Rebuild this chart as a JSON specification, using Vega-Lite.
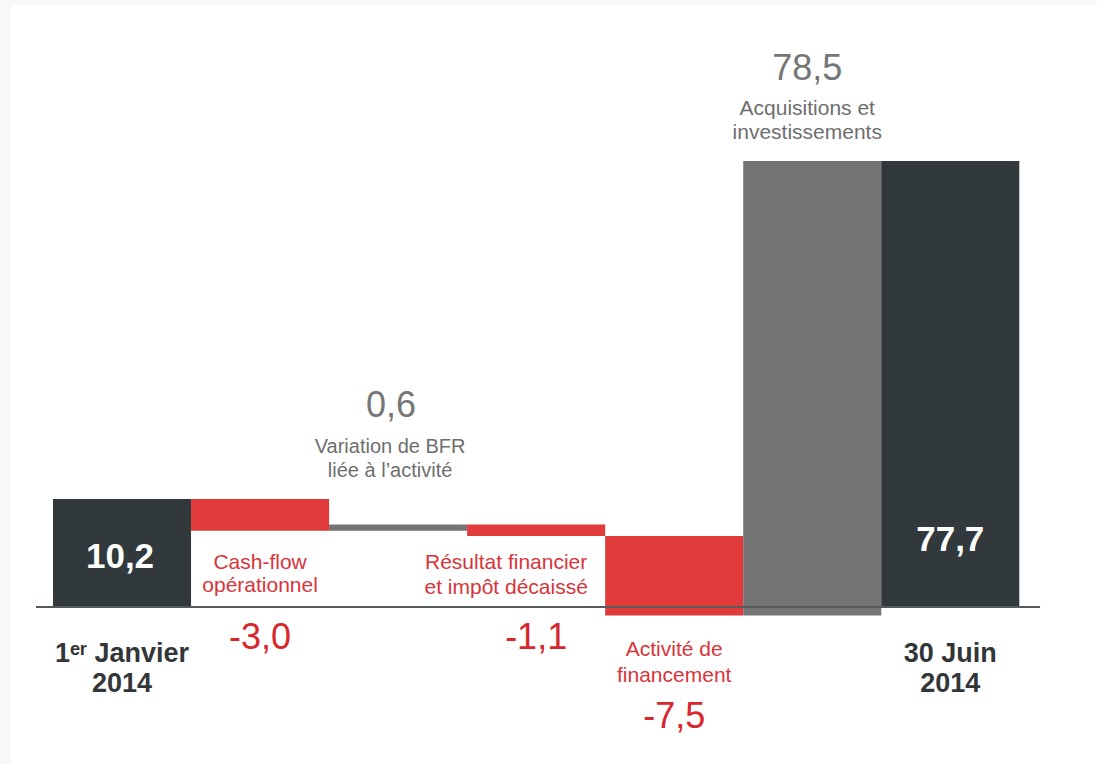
{
  "$schema": "https://vega.github.io/schema/vega-lite/v6.json",
  "width": 1086,
  "height": 759,
  "autosize": {"type": "none"},
  "padding": {"left": 11, "top": 5, "right": 0, "bottom": 0},
  "background": "#f7f8fa",
  "config": {"view": {"stroke": null, "fill": "white"}, "text": {"font": "Liberation Sans", "lineBreak": "\n"}},
  "data": {"values": [
    {"cat": "1er Janvier 2014", "start": 0, "end": 10.2, "kind": "total", "value": "10,2", "label": "1ᵉʳ Janvier\n2014"},
    {"cat": "Cash-flow opérationnel", "start": 10.2, "end": 7.2, "kind": "dec", "value": "-3,0", "label": "Cash-flow\nopérationnel"},
    {"cat": "Variation de BFR liée à l'activité", "start": 7.2, "end": 7.8, "kind": "inc", "value": "0,6", "label": "Variation de BFR\nliée à l’activité"},
    {"cat": "Résultat financier et impôt décaissé", "start": 7.8, "end": 6.7, "kind": "dec", "value": "-1,1", "label": "Résultat financier\net impôt décaissé"},
    {"cat": "Activité de financement", "start": 6.7, "end": -0.8, "kind": "dec", "value": "-7,5", "label": "Activité de\nfinancement"},
    {"cat": "Acquisitions et investissements", "start": -0.8, "end": 77.7, "kind": "inc", "value": "78,5", "label": "Acquisitions et\ninvestissements"},
    {"cat": "30 Juin 2014", "start": 0, "end": 77.7, "kind": "total", "value": "77,7", "label": "30 Juin\n2014"}
  ]},
  "encoding": {
    "x": {"field": "cat", "type": "nominal", "sort": null, "axis": null,
          "scale": {"range": [42, 1008.3], "paddingInner": 0, "paddingOuter": 0}}
  },
  "layer": [
    {
      "mark": {"type": "bar"},
      "encoding": {
        "y": {"field": "start", "type": "quantitative", "axis": null,
              "scale": {"domain": [-10, 0, 10.2, 77.7], "range": [708, 602, 494, 156], "nice": false, "zero": false}},
        "y2": {"field": "end"},
        "color": {"field": "kind", "type": "nominal", "legend": null,
                  "scale": {"domain": ["total", "dec", "inc"], "range": ["#31393c", "#e03a3b", "#747474"]}}
      }
    },
    {
      "mark": {"type": "rule", "color": "#555a5c", "strokeWidth": 2},
      "encoding": {
        "x": {"datum": "1er Janvier 2014", "type": "nominal", "bandPosition": -0.12},
        "x2": {"datum": "30 Juin 2014", "bandPosition": 1.15},
        "y": {"datum": 0, "type": "quantitative"}
      }
    },
    {
      "transform": [{"filter": "datum.cat == '1er Janvier 2014'"}],
      "mark": {"type": "text", "color": "white", "fontWeight": "bold", "fontSize": 35, "baseline": "middle", "dy": -50, "dx": -2},
      "encoding": {"y": {"datum": 0, "type": "quantitative"}, "text": {"field": "value"}}
    },
    {
      "transform": [{"filter": "datum.cat == '30 Juin 2014'"}],
      "mark": {"type": "text", "color": "white", "fontWeight": "bold", "fontSize": 35, "baseline": "middle", "dy": -67},
      "encoding": {"y": {"datum": 0, "type": "quantitative"}, "text": {"field": "value"}}
    },
    {
      "transform": [{"filter": "datum.kind == 'total'"}],
      "mark": {"type": "text", "color": "#333638", "fontWeight": "bold", "fontSize": 27, "lineHeight": 30, "baseline": "middle", "dy": 47},
      "encoding": {"y": {"datum": 0, "type": "quantitative"}, "text": {"field": "label"}}
    },
    {
      "transform": [{"filter": "datum.cat == 'Cash-flow opérationnel'"}],
      "mark": {"type": "text", "color": "#d8343a", "fontSize": 21, "lineHeight": 23, "baseline": "middle", "dy": -44},
      "encoding": {"y": {"datum": 0, "type": "quantitative"}, "text": {"field": "label"}}
    },
    {
      "transform": [{"filter": "datum.cat == 'Résultat financier et impôt décaissé'"}],
      "mark": {"type": "text", "color": "#d8343a", "fontSize": 21, "lineHeight": 25, "baseline": "middle", "dy": -44, "dx": -30},
      "encoding": {"y": {"datum": 0, "type": "quantitative"}, "text": {"field": "label"}}
    },
    {
      "transform": [{"filter": "datum.cat == 'Cash-flow opérationnel' || datum.cat == 'Résultat financier et impôt décaissé'"}],
      "mark": {"type": "text", "color": "#d8262d", "fontSize": 36, "baseline": "middle", "dy": 31},
      "encoding": {"y": {"datum": 0, "type": "quantitative"}, "text": {"field": "value"}}
    },
    {
      "transform": [{"filter": "datum.cat == 'Activité de financement'"}],
      "mark": {"type": "text", "color": "#d8343a", "fontSize": 21, "lineHeight": 26, "baseline": "middle", "dy": 43},
      "encoding": {"y": {"datum": 0, "type": "quantitative"}, "text": {"field": "label"}}
    },
    {
      "transform": [{"filter": "datum.cat == 'Activité de financement'"}],
      "mark": {"type": "text", "color": "#d8262d", "fontSize": 36, "baseline": "middle", "dy": 110},
      "encoding": {"y": {"datum": 0, "type": "quantitative"}, "text": {"field": "value"}}
    },
    {
      "transform": [{"filter": "datum.cat == 'Variation de BFR liée à l\\'activité'"}],
      "mark": {"type": "text", "color": "#6e6e6e", "fontSize": 20, "lineHeight": 24, "baseline": "middle", "dy": -77, "dx": -8},
      "encoding": {"y": {"field": "end", "type": "quantitative"}, "text": {"field": "label"}}
    },
    {
      "transform": [{"filter": "datum.cat == 'Variation de BFR liée à l\\'activité'"}],
      "mark": {"type": "text", "color": "#767676", "fontSize": 36, "baseline": "middle", "dy": -118, "dx": -7},
      "encoding": {"y": {"field": "end", "type": "quantitative"}, "text": {"field": "value"}}
    },
    {
      "transform": [{"filter": "datum.cat == 'Acquisitions et investissements'"}],
      "mark": {"type": "text", "color": "#6e6e6e", "fontSize": 21, "lineHeight": 24, "baseline": "middle", "dy": -52, "dx": -5},
      "encoding": {"y": {"field": "end", "type": "quantitative"}, "text": {"field": "label"}}
    },
    {
      "transform": [{"filter": "datum.cat == 'Acquisitions et investissements'"}],
      "mark": {"type": "text", "color": "#767676", "fontSize": 36, "baseline": "middle", "dy": -92, "dx": -5},
      "encoding": {"y": {"field": "end", "type": "quantitative"}, "text": {"field": "value"}}
    }
  ]
}
